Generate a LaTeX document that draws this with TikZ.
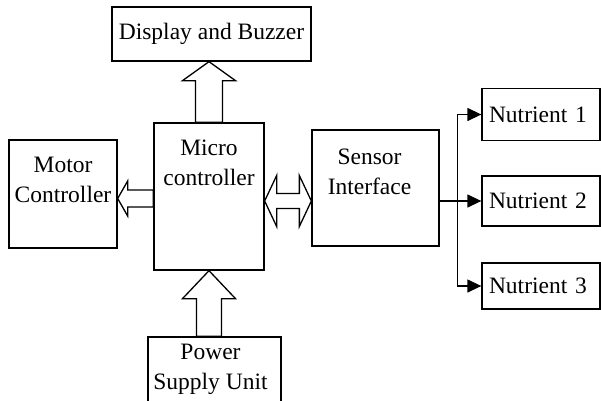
\documentclass[tikz,border=0pt]{standalone}
\usepackage{fontspec}
\setmainfont{Liberation Serif}
\usetikzlibrary{positioning,calc,arrows.meta}

\tikzset{
  shafthalf/.store in=\shafthalf, headhalf/.store in=\headhalf, headlen/.store in=\headlen,
  shafthalf=13.5pt, headhalf=26.5pt, headlen=19pt
}
\tikzstyle{box} = [draw, rectangle, line width=1.3pt, inner sep=0pt, font=\fontsize{23.5}{30}\selectfont]
\tikzstyle{txt} = [inner sep=0pt, align=center, font=\fontsize{23.5}{30}\selectfont]
\tikzstyle{nut} = [box, text width=104pt, inner xsep=7pt, align=left]
\tikzstyle{ded} = [-{Triangle[length=14pt,width=13pt]}, line width=1.3pt]
% hollow block arrows
\tikzstyle{blk} = [draw, fill=white, line width=1.3pt, to path={
  let \p1=($(\tikztotarget)!\headlen!(\tikztostart)$) in
  ($(\tikztostart)!\shafthalf!90:(\tikztotarget)$) -- ($(\p1)!\shafthalf!90:(\tikztotarget)$)
  -- ($(\p1)!\headhalf!90:(\tikztotarget)$) -- (\tikztotarget)
  -- ($(\p1)!\headhalf!-90:(\tikztotarget)$) -- ($(\p1)!\shafthalf!-90:(\tikztotarget)$)
  -- ($(\tikztostart)!\shafthalf!-90:(\tikztotarget)$) -- cycle}]
\tikzstyle{dblk} = [draw, fill=white, line width=1.3pt, to path={
  let \p1=($(\tikztostart)!\headlen!(\tikztotarget)$), \p2=($(\tikztotarget)!\headlen!(\tikztostart)$) in
  (\tikztostart) -- ($(\p1)!\headhalf!90:(\tikztotarget)$) -- ($(\p1)!\shafthalf!90:(\tikztotarget)$)
  -- ($(\p2)!\shafthalf!90:(\tikztotarget)$) -- ($(\p2)!\headhalf!90:(\tikztotarget)$) -- (\tikztotarget)
  -- ($(\p2)!\headhalf!-90:(\tikztotarget)$) -- ($(\p2)!\shafthalf!-90:(\tikztotarget)$)
  -- ($(\p1)!\shafthalf!-90:(\tikztotarget)$) -- ($(\p1)!\headhalf!-90:(\tikztotarget)$) -- cycle}]

\begin{document}
\begin{tikzpicture}[x=1pt,y=-1pt]
  \useasboundingbox (0,0) rectangle (601,400);
  \clip (0,0) rectangle (601,400);
  \node at (211.5,34) (disp) [box, minimum width=199pt, minimum height=54pt] {Display and Buzzer};
  \node at (209,196.5) (mc) [box, minimum width=110pt, minimum height=147pt] {};
  \node at (63,194) (mot) [box, minimum width=108pt, minimum height=108pt] {};
  \node at (375.5,188) (sen) [box, minimum width=127pt, minimum height=116pt] {};
  \node at (214.5,370) (psu) [box, minimum width=133pt, minimum height=66pt] {};
  \node at (541,114.5) (nut1) [nut, minimum height=52pt] {Nutrient 1};
  \node at (541,201) (nut2) [nut, minimum height=50pt] {Nutrient 2};
  \node at (541,286) (nut3) [nut, minimum height=46pt] {Nutrient 3};
  \node [txt, below=17.5pt of mc.north] (mc-t) {Micro\\controller};
  \node [txt, below=18pt of mot.north] (mot-t) {Motor\\Controller};
  \node [txt, below=19pt of sen.north, xshift=-6pt] (sen-t) {Sensor\\Interface};
  \node [txt, below=7.5pt of psu.north, xshift=-4pt] (psu-t) {Power\\Supply Unit};
  \coordinate (ml) at ($(mc.west)+(0,2)$);
  \coordinate (sl) at ($(mc.east)+(0,4.5)$);
  \draw[blk] (mc.north) to (mc.north |- disp.south);
  \draw[blk, headlen=28pt, shafthalf=12.5pt] (mc.south |- psu.north) to (mc.south);
  \draw[blk, headlen=10pt, shafthalf=8.5pt, headhalf=17.5pt] (ml) to (ml -| mot.east);
  \draw[dblk, headlen=12pt, shafthalf=7.5pt, headhalf=25.5pt] (sl) to (sl -| sen.west);
  \coordinate (br) at ($(sen.east |- nut2.west)+(18,0)$);
  \draw[ded] (sen.east |- nut2.west) -- (nut2.west);
  \draw[ded] (br) |- (nut1.west);
  \draw[ded] (br) |- (nut3.west);
\end{tikzpicture}
\end{document}
